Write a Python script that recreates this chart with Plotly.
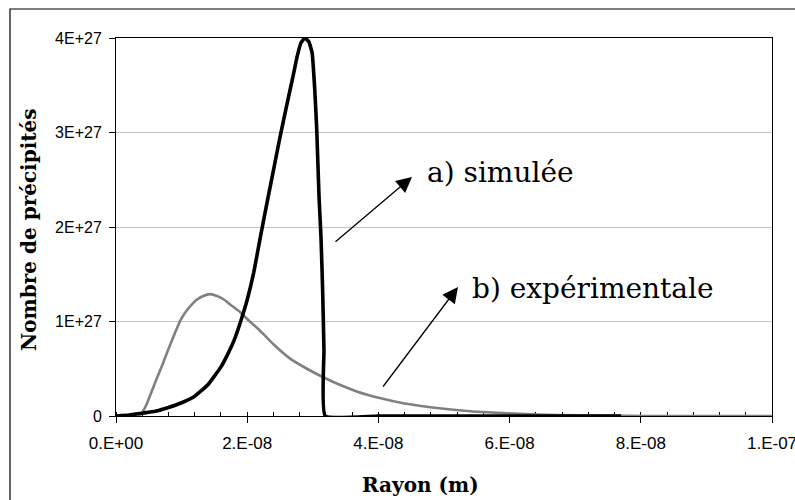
import numpy as np
import plotly.graph_objects as go

# ---- data (x in nm, y in units of 1E+27) ----
sim_x_nm = [0, 2, 4, 6, 8, 10, 12, 14, 16, 17, 18, 19, 20, 21, 22, 23, 24, 25, 26, 27,
            27.6, 28.2, 28.8, 29.4, 29.9, 30.3, 30.6, 30.95, 31.25, 31.5, 31.7, 31.9,
            40, 50, 60, 70, 77]
sim_y_e27 = [0.0, 0.01, 0.03, 0.05, 0.09, 0.14, 0.21, 0.33, 0.52, 0.65, 0.80, 1.00, 1.23, 1.52,
             1.89, 2.25, 2.60, 2.95, 3.28, 3.60, 3.80, 3.95, 4.00, 3.96, 3.84, 3.45, 3.03, 2.32,
             1.89, 1.33, 0.70, 0.0, 0.0, 0.0, 0.0, 0.0, 0.0]

exp_x_nm = [0, 2, 3.2, 4.0, 4.7, 6.0, 7.0, 8.0, 9.0, 9.8, 10.5, 11.3, 12.3, 13.3, 14.3,
            15.4, 16.5, 17.4, 18.9, 20.4, 22, 24, 26.5, 29.1, 31.6, 34.1, 36.7, 40.2, 43.8,
            48.9, 54, 59, 64.2, 70, 77, 80, 90, 100]
exp_y_e27 = [0.0, 0.0, 0.0, 0.04, 0.13, 0.36, 0.53, 0.71, 0.88, 1.01, 1.09, 1.16, 1.23, 1.27,
             1.29, 1.27, 1.23, 1.18, 1.10, 1.00, 0.90, 0.76, 0.61, 0.50, 0.41, 0.33, 0.26,
             0.19, 0.135, 0.085, 0.05, 0.03, 0.015, 0.007, 0.003, 0.0, 0.0, 0.0]

x_tickvals = [0, 2e-8, 4e-8, 6e-8, 8e-8, 1e-7]
x_ticktext = ["0.E+00", "2.E-08", "4.E-08", "6.E-08", "8.E-08", "1.E-07"]
y_tickvals = [0, 1e27, 2e27, 3e27, 4e27]
y_ticktext = ["0", "1E+27", "2E+27", "3E+27", "4E+27"]

label_a = "a) simulée"
label_b = "b) expérimentale"
x_title = "Rayon (m)"
y_title = "Nombre de précipités"

sim_x = np.array(sim_x_nm) * 1e-9
sim_y = np.array(sim_y_e27) * 1e27
exp_x = np.array(exp_x_nm) * 1e-9
exp_y = np.array(exp_y_e27) * 1e27

fig = go.Figure()
fig.add_trace(go.Scatter(x=exp_x, y=exp_y, mode="lines",
                         line=dict(color="#808080", width=2.6, shape="spline", smoothing=0.5),
                         showlegend=False, hoverinfo="skip"))
fig.add_trace(go.Scatter(x=sim_x, y=sim_y, mode="lines",
                         line=dict(color="black", width=3.6, shape="spline", smoothing=0.4),
                         showlegend=False, hoverinfo="skip"))

W, H = 795, 500
L, R, T, B = 116, 23, 38, 84
pw, ph = W - L - R, H - T - B


def px_to_paper(px, py):
    return (px - L) / pw, (H - B - py) / ph


tick_font = dict(family="Liberation Sans, Arial, sans-serif", color="black")

fig.update_layout(
    width=W, height=H, autosize=False,
    margin=dict(l=L, r=R, t=T, b=B, pad=0, autoexpand=False),
    paper_bgcolor="white", plot_bgcolor="white",
    showlegend=False,
    xaxis=dict(
        range=[0, 1e-7], tickvals=x_tickvals, ticktext=x_ticktext,
        ticks="outside", ticklen=6, tickwidth=1, tickcolor="black",
        showline=True, linecolor="black", linewidth=1, mirror=True,
        showgrid=False, zeroline=False, layer="below traces",
        tickfont=dict(size=17, **tick_font), ticklabelstandoff=6,
        ticklabeloverflow="allow", automargin=False,
        minor=dict(dtick=4e-9, tick0=0, ticks="inside", ticklen=4,
                   tickcolor="black", tickwidth=1, showgrid=False),
    ),
    yaxis=dict(
        range=[0, 4e27], tickvals=y_tickvals, ticktext=y_ticktext,
        ticks="outside", ticklen=6, tickwidth=1, tickcolor="black",
        showline=True, linecolor="black", linewidth=1, mirror=True,
        showgrid=True, gridcolor="#c4c4c4", gridwidth=1,
        zeroline=False, layer="below traces", automargin=False,
        tickfont=dict(size=16, **tick_font), ticklabelstandoff=4,
    ),
)

# outer chart frame
fx0, fy1 = px_to_paper(10, 9)
fx1, fy0 = px_to_paper(805, 520)
fig.add_shape(type="rect", xref="paper", yref="paper", x0=fx0, x1=fx1, y0=fy0, y1=fy1,
              line=dict(color="black", width=1.2), fillcolor="rgba(0,0,0,0)", layer="below")

# axis titles
tx, ty = px_to_paper(420, 485)
fig.add_annotation(text=f"<b>{x_title}</b>", xref="paper", yref="paper", x=tx, y=ty,
                   showarrow=False, xanchor="center", yanchor="middle",
                   font=dict(family="DejaVu Serif", size=20, color="black"))
tx, ty = px_to_paper(29, 230)
fig.add_annotation(text=f"<b>{y_title}</b>", xref="paper", yref="paper", x=tx, y=ty,
                   showarrow=False, xanchor="center", yanchor="middle", textangle=-90,
                   font=dict(family="DejaVu Serif", size=20, color="black"))

# arrows
for tip, start in [((412, 177), (334, 243)), ((458, 287), (382, 388))]:
    ax_, ay_ = px_to_paper(*tip)
    fig.add_annotation(xref="paper", yref="paper", x=ax_, y=ay_,
                       ax=start[0] - tip[0], ay=start[1] - tip[1],
                       axref="pixel", ayref="pixel", text="", showarrow=True,
                       arrowhead=2, arrowsize=2.4, arrowwidth=1.3, arrowcolor="black")

# labels
for txt, (lx, ly) in [(label_a, (425, 172)), (label_b, (470, 288))]:
    ax_, ay_ = px_to_paper(lx, ly)
    fig.add_annotation(text=txt, xref="paper", yref="paper", x=ax_, y=ay_,
                       showarrow=False, xanchor="left", yanchor="middle",
                       font=dict(family="DejaVu Serif", size=28, color="black"))

fig.write_html("out.html",
               config=dict(responsive=False, displayModeBar=False, staticPlot=True),
               post_script="document.body.style.overflow='hidden';document.body.style.margin='0';")
